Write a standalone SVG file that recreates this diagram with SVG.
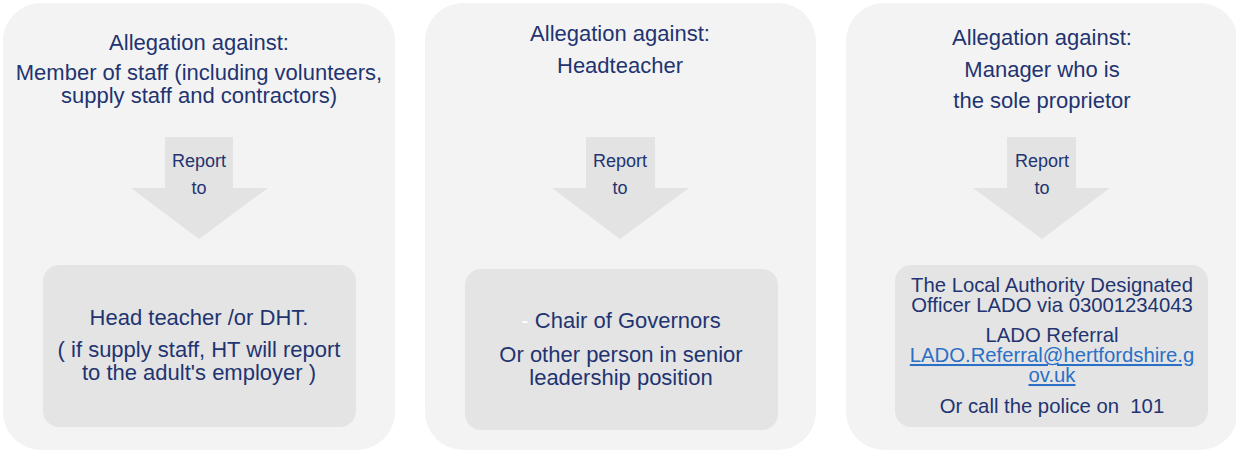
<svg xmlns="http://www.w3.org/2000/svg" width="1236" height="450" viewBox="0 0 1236 450">
<style>
.panel{fill:#f3f3f3}
.box{fill:#e4e4e4}
.arrow{fill:#e3e3e3}
text{font-family:"Liberation Sans",Arial,sans-serif;fill:#1f3471;text-anchor:middle}
.t22{font-size:22px}
.t20{font-size:20.3px}
.t18{font-size:18px}
.link{fill:#2a70c6;text-decoration:underline}
</style>
<rect x="0" y="0" width="1236" height="450" fill="#ffffff"/>
<g id="panel1">
<rect class="panel" x="3" y="3" width="392" height="447" rx="38"/>
<text class="t22" x="199" y="50">Allegation against:</text>
<text class="t22" x="199" y="80">Member of staff (including volunteers,</text>
<text class="t22" x="199" y="103">supply staff and contractors)</text>
</g>
<g id="panel2">
<rect class="panel" x="425" y="3" width="391" height="447" rx="38"/>
<text class="t22" x="620" y="41">Allegation against:</text>
<text class="t22" x="620" y="73">Headteacher</text>
</g>
<g id="panel3">
<rect class="panel" x="846" y="3" width="392" height="447" rx="38"/>
<text class="t22" x="1042" y="45">Allegation against:</text>
<text class="t22" x="1042" y="77">Manager who is</text>
<text class="t22" x="1042" y="108">the sole proprietor</text>
</g>
<g id="connectors">
<g id="arrow1">
<polygon class="arrow" points="165,137 233,137 233,188 268,188 199,239 131,188 165,188"/>
<text class="t18" x="199" y="167">Report</text>
<text class="t18" x="199" y="194">to</text>
</g>
<g id="arrow2">
<polygon class="arrow" points="586,137 655,137 655,188 689,188 620,239 552,188 586,188"/>
<text class="t18" x="620" y="167">Report</text>
<text class="t18" x="620" y="194">to</text>
</g>
<g id="arrow3">
<polygon class="arrow" points="1007,137 1076,137 1076,188 1110,188 1042,239 973,188 1007,188"/>
<text class="t18" x="1042" y="167">Report</text>
<text class="t18" x="1042" y="194">to</text>
</g>
</g>
<g id="box1">
<rect class="box" x="43" y="265" width="313" height="162" rx="16"/>
<text class="t22" x="199" y="325">Head teacher /or DHT.</text>
<text class="t22" x="199" y="357">( if supply staff, HT will report</text>
<text class="t22" x="199" y="380">to the adult's employer )</text>
</g>
<g id="box2">
<rect class="box" x="465" y="269" width="313" height="161" rx="16"/>
<text class="t22" x="621" y="328"><tspan fill="#ffffff">-</tspan> Chair of Governors</text>
<text class="t22" x="621" y="362">Or other person in senior</text>
<text class="t22" x="621" y="385">leadership position</text>
</g>
<g id="box3">
<rect class="box" x="895" y="265" width="313" height="162" rx="16"/>
<text class="t20" x="1052" y="292">The Local Authority Designated</text>
<text class="t20" x="1052" y="312">Officer LADO via 03001234043</text>
<text class="t20" x="1052" y="342">LADO Referral</text>
<text class="t20 link" x="1052" y="362">LADO.Referral@hertfordshire.g</text>
<text class="t20 link" x="1052" y="382">ov.uk</text>
<text class="t20" x="1052" y="413" xml:space="preserve">Or call the police on  101</text>
</g>
</svg>
